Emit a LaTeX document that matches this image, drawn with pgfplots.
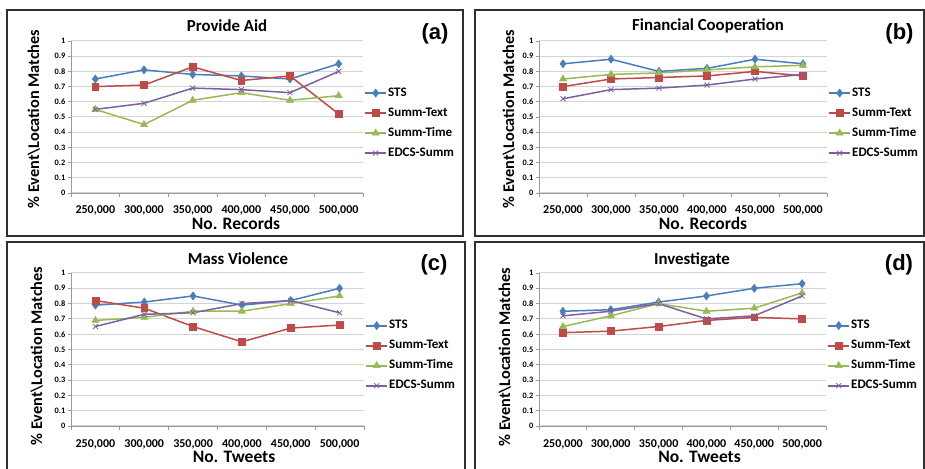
\documentclass[border=0pt]{standalone}
\usepackage{fontspec}
\setmainfont{Carlito}
\newfontfamily\arialfont{Liberation Sans}
\usepackage{pgfplots}
\pgfplotsset{compat=1.18}
\definecolor{cSTS}{HTML}{4A7EBB}
\definecolor{cTXT}{HTML}{BE4B48}
\definecolor{cTIM}{HTML}{98B954}
\definecolor{cEDC}{HTML}{7D60A0}
\definecolor{axgray}{HTML}{9A9A9A}
\definecolor{gridgray}{HTML}{D4D4D4}
\definecolor{framegray}{HTML}{303030}
\pgfplotsset{
  panel/.style={
    scale only axis, width=292pt, height=152pt,
    xmin=-0.5, xmax=5.5, ymin=0, ymax=1,
    xtick={0,1,2,3,4,5},
    xticklabels={{250,000},{300,000},{350,000},{400,000},{450,000},{500,000}},
    minor xtick={-0.5,0.5,1.5,2.5,3.5,4.5,5.5},
    ytick={0,0.1,0.2,0.3,0.4,0.5,0.6,0.7,0.8,0.9,1},
    yticklabels={0,0.1,0.2,0.3,0.4,0.5,0.6,0.7,0.8,0.9,1},
    axis x line*=bottom, axis y line*=left,
    axis line style={draw=axgray, line width=0.8pt},
    tick align=outside, major tick length=3pt, minor tick length=4pt,
    tick style={draw=axgray, line width=0.8pt},
    major x tick style={draw=none},
    ymajorgrids, grid style={draw=gridgray, line width=1pt},
    xticklabel style={font=\fontsize{12}{13}\bfseries\selectfont, anchor=base, inner sep=0pt, yshift=-18pt},
    yticklabel style={font=\fontsize{8.3}{9}\bfseries\selectfont, anchor=east, inner sep=0pt, xshift=-2.5pt},
    legend style={at={(1,0.46)}, anchor=west, xshift=1pt, draw=none, fill=none, inner sep=0pt,
      row sep=6pt, font=\fontsize{13}{14}\bfseries\selectfont,
      nodes={inner sep=1pt, text height=9pt, text depth=3pt}},
    legend cell align=left,
    legend image code/.code={\draw[##1, solid, line width=2pt] (0pt,0pt) -- (21pt,0pt); \draw[##1, only marks] plot coordinates {(10.5pt,0pt)};},
    clip=false,
  },
  sts/.style={color=cSTS, line width=1.5pt, mark=diamond*, mark size=4pt, mark options={solid, fill=cSTS, line width=0.6pt}},
  txt/.style={color=cTXT, line width=1.5pt, mark=square*, mark size=3.4pt, mark options={solid, fill=cTXT, line width=0.6pt}},
  tim/.style={color=cTIM, line width=1.5pt, mark=triangle*, mark size=4pt, mark options={solid, fill=cTIM, line width=0.6pt}},
  edc/.style={color=cEDC, line width=1.5pt, mark=x, mark size=3.5pt, mark options={solid, line width=0.8pt}},
}
\newcommand{\titlefont}{\fontsize{16.8}{18}\bfseries\selectfont}
\newcommand{\labfont}{\fontsize{17.5}{19}\bfseries\selectfont}
\newcommand{\ylabfont}{\fontsize{16.3}{18}\bfseries\selectfont}
\newcommand{\letfont}{\arialfont\fontsize{22}{24}\bfseries\selectfont}
\begin{document}
\begin{tikzpicture}
\useasboundingbox (0pt,0pt) rectangle (925pt,468pt);
\clip (0pt,0pt) rectangle (925pt,468pt);
% frames
\draw[framegray, line width=1.6pt] (7pt,232pt) rectangle (463pt,458pt);
\draw[framegray, line width=1.6pt] (475pt,232pt) rectangle (924pt,458pt);
\draw[framegray, line width=1.6pt] (7pt,-3pt) rectangle (465pt,226pt);
\draw[framegray, line width=1.6pt] (475pt,-3pt) rectangle (924pt,226pt);

% (a) Provide Aid
\begin{axis}[panel, at={(71pt,275pt)}, anchor=south west, width=292pt, height=152pt]
\addplot[sts] coordinates {(0,0.75)(1,0.81)(2,0.78)(3,0.77)(4,0.75)(5,0.85)};
\addplot[txt] coordinates {(0,0.70)(1,0.71)(2,0.83)(3,0.74)(4,0.77)(5,0.52)};
\addplot[tim] coordinates {(0,0.55)(1,0.45)(2,0.61)(3,0.66)(4,0.61)(5,0.64)};
\addplot[edc] coordinates {(0,0.55)(1,0.59)(2,0.69)(3,0.68)(4,0.66)(5,0.80)};
\legend{STS,Summ-Text,Summ-Time,EDCS-Summ}
\end{axis}
% (b) Financial Cooperation
\begin{axis}[panel, at={(539pt,275pt)}, anchor=south west, width=288pt, height=152pt]
\addplot[sts] coordinates {(0,0.85)(1,0.88)(2,0.80)(3,0.82)(4,0.88)(5,0.85)};
\addplot[txt] coordinates {(0,0.70)(1,0.75)(2,0.76)(3,0.77)(4,0.80)(5,0.77)};
\addplot[tim] coordinates {(0,0.75)(1,0.78)(2,0.79)(3,0.81)(4,0.83)(5,0.84)};
\addplot[edc] coordinates {(0,0.62)(1,0.68)(2,0.69)(3,0.71)(4,0.75)(5,0.78)};
\legend{STS,Summ-Text,Summ-Time,EDCS-Summ}
\end{axis}
% (c) Mass Violence
\begin{axis}[panel, at={(71pt,42pt)}, anchor=south west, width=293pt, height=153pt]
\addplot[sts] coordinates {(0,0.79)(1,0.81)(2,0.85)(3,0.79)(4,0.82)(5,0.90)};
\addplot[txt] coordinates {(0,0.82)(1,0.77)(2,0.65)(3,0.55)(4,0.64)(5,0.66)};
\addplot[tim] coordinates {(0,0.69)(1,0.71)(2,0.75)(3,0.75)(4,0.80)(5,0.85)};
\addplot[edc] coordinates {(0,0.65)(1,0.73)(2,0.74)(3,0.80)(4,0.82)(5,0.74)};
\legend{STS,Summ-Text,Summ-Time,EDCS-Summ}
\end{axis}
% (d) Investigate
\begin{axis}[panel, at={(539pt,42pt)}, anchor=south west, width=287pt, height=153pt]
\addplot[sts] coordinates {(0,0.75)(1,0.76)(2,0.81)(3,0.85)(4,0.90)(5,0.93)};
\addplot[txt] coordinates {(0,0.61)(1,0.62)(2,0.65)(3,0.69)(4,0.71)(5,0.70)};
\addplot[tim] coordinates {(0,0.65)(1,0.72)(2,0.80)(3,0.75)(4,0.77)(5,0.87)};
\addplot[edc] coordinates {(0,0.72)(1,0.75)(2,0.80)(3,0.70)(4,0.72)(5,0.85)};
\legend{STS,Summ-Text,Summ-Time,EDCS-Summ}
\end{axis}

% titles
\node[anchor=base, inner sep=0pt, font=\titlefont] at (227pt,436pt) {Provide Aid};
\node[anchor=base, inner sep=0pt, font=\titlefont] at (708pt,437pt) {Financial Cooperation};
\node[anchor=base, inner sep=0pt, font=\titlefont] at (238pt,203pt) {Mass Violence};
\node[anchor=base, inner sep=0pt, font=\titlefont] at (692pt,203pt) {Investigate};
% panel letters
\node[anchor=base, inner sep=0pt, font=\letfont] at (435pt,428pt) {(a)};
\node[anchor=base, inner sep=0pt, font=\letfont] at (899.5pt,428pt) {(b)};
\node[anchor=base, inner sep=0pt, font=\letfont] at (434pt,197pt) {(c)};
\node[anchor=base, inner sep=0pt, font=\letfont] at (899pt,197pt) {(d)};
% x labels
\node[anchor=base, inner sep=0pt, font=\labfont] at (236pt,238pt) {No. Records};
\node[anchor=base, inner sep=0pt, font=\labfont] at (703pt,238pt) {No. Records};
\node[anchor=base, inner sep=0pt, font=\labfont] at (234pt,6pt) {No. Tweets};
\node[anchor=base, inner sep=0pt, font=\labfont] at (699.5pt,6pt) {No. Tweets};
% y labels
\node[anchor=base, rotate=90, inner sep=0pt, font=\ylabfont] at (39pt,349pt) {\% Event\textbackslash Location Matches};
\node[anchor=base, rotate=90, inner sep=0pt, font=\ylabfont] at (514pt,349pt) {\% Event\textbackslash Location Matches};
\node[anchor=base, rotate=90, inner sep=0pt, font=\ylabfont] at (42pt,112pt) {\% Event\textbackslash Location Matches};
\node[anchor=base, rotate=90, inner sep=0pt, font=\ylabfont] at (510pt,111pt) {\% Event\textbackslash Location Matches};
\end{tikzpicture}
\end{document}
